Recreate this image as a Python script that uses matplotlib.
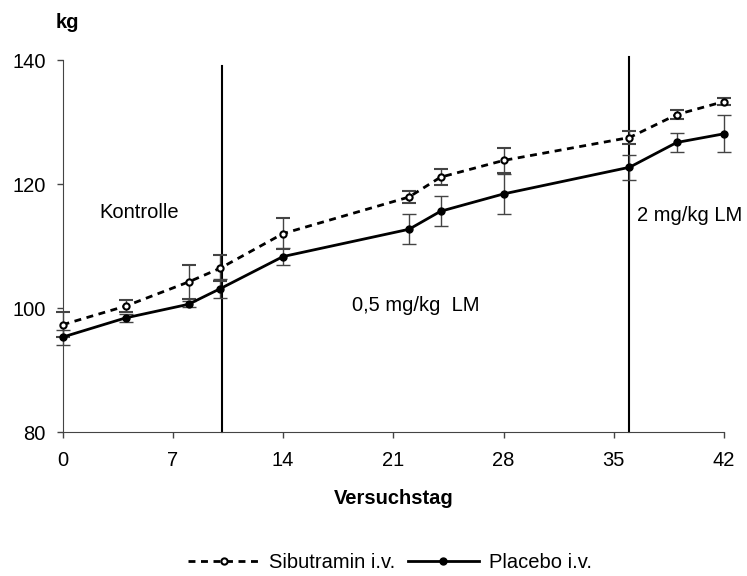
import matplotlib.pyplot as plt
from matplotlib.lines import Line2D

plt.rcParams['font.family'] = ['Liberation Sans', 'DejaVu Sans']

# data (day, kg, +/- error)
days = [0, 4, 8, 10, 14, 22, 24, 28, 36, 39, 42]
sibutramin = [97.3, 100.3, 104.2, 106.4, 112.0, 117.9, 121.1, 123.8, 127.5, 131.2, 133.3]
sibutramin_err = [2.0, 1.0, 2.8, 2.1, 2.5, 1.0, 1.3, 2.0, 1.0, 0.7, 0.6]
placebo = [95.3, 98.4, 100.6, 103.1, 108.3, 112.7, 115.6, 118.4, 122.7, 126.7, 128.1]
placebo_err = [1.2, 0.7, 0.5, 1.5, 1.4, 2.4, 2.4, 3.2, 2.0, 1.5, 3.0]

x_ticks = [0, 7, 14, 21, 28, 35, 42]
y_ticks = [80, 100, 120, 140]
phase_lines = [10.15, 36]
phase_tops = [139.0, 140.5]

FS = 14.5
dash = (0, (2.5, 2))

fig = plt.figure(figsize=(7.47, 5.76), dpi=100)
ax = fig.add_axes([0.0837, 0.25, 0.8855, 0.6458])

ax.errorbar(days, sibutramin, yerr=sibutramin_err, color='black', linestyle=dash,
            linewidth=2, marker='o', markersize=4.5, markerfacecolor='white',
            markeredgewidth=1.5, ecolor='#444444', elinewidth=1, capsize=4.7, capthick=1,
            clip_on=False, zorder=3)
ax.errorbar(days, placebo, yerr=placebo_err, color='black', linestyle='-',
            linewidth=2, marker='o', markersize=5, ecolor='#444444', elinewidth=1,
            capsize=4.7, capthick=1, clip_on=False, zorder=3)

for xv, top in zip(phase_lines, phase_tops):
    ax.plot([xv, xv], [80, top], color='black', linewidth=1.5, clip_on=False, zorder=2)

ax.text(2.35, 115.4, 'Kontrolle', fontsize=FS, ha='left', va='center')
ax.text(18.36, 100.4, '0,5 mg/kg  LM', fontsize=FS, ha='left', va='center')
ax.text(36.47, 115.0, '2 mg/kg LM', fontsize=FS, ha='left', va='center')

ax.set_xlim(0, 42)
ax.set_ylim(80, 140)
ax.set_xticks(x_ticks)
ax.set_yticks(y_ticks)
ax.tick_params(labelsize=FS, length=4, width=1, color='#444444')
ax.tick_params(axis='x', pad=10)
ax.tick_params(axis='y', pad=8)
for side in ['top', 'right']:
    ax.spines[side].set_visible(False)
for side in ['left', 'bottom']:
    ax.spines[side].set_color('#444444')

fig.text(393.5 / 747, 1 - 498 / 576, 'Versuchstag', fontsize=FS, fontweight='bold',
         ha='center', va='center')
fig.text(67.5 / 747, 1 - 23 / 576, 'kg', fontsize=FS, fontweight='bold',
         ha='center', va='center')

handles = [
    Line2D([], [], color='black', linestyle=dash, linewidth=2, marker='o', markersize=4.5,
           markerfacecolor='white', markeredgewidth=1.5),
    Line2D([], [], color='black', linestyle='-', linewidth=2, marker='o', markersize=5),
]
fig.legend(handles, ['Sibutramin i.v.', 'Placebo i.v.'], loc='center',
           bbox_to_anchor=(390 / 747, 1 - 563 / 576), ncol=2, frameon=False, fontsize=FS,
           handlelength=3.5, columnspacing=0.65, handletextpad=0.5, borderpad=0)

fig.savefig('out.png', dpi=100)
